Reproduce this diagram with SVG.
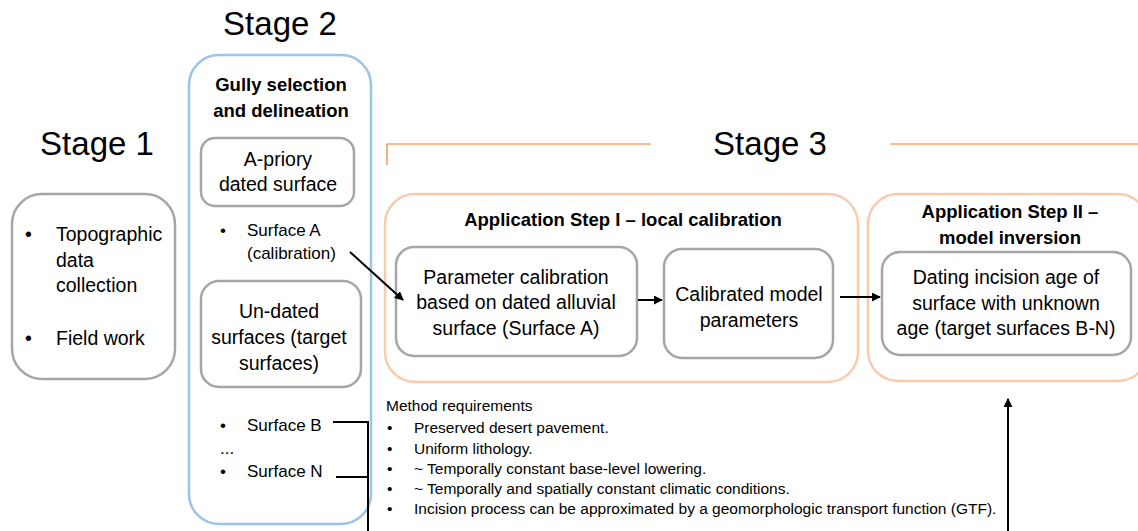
<svg xmlns="http://www.w3.org/2000/svg" width="1138" height="531" viewBox="0 0 1138 531">
<defs>
<style>
text{font-family:"Liberation Sans",Arial,sans-serif;fill:#000}
.title{font-size:33px;text-anchor:middle}
.t{font-size:19.5px;text-anchor:middle}
.b{font-size:18.5px;font-weight:bold;text-anchor:middle}
.s{font-size:17px}
.m{font-size:15.5px}
.gray{fill:#fff;stroke:#a6a6a6;stroke-width:2.5}
.orange{fill:#fff;stroke:#f8cbad;stroke-width:2.5}
.blue{fill:#fff;stroke:#9dc3e6;stroke-width:2.5}
.conn{fill:none;stroke:#000;stroke-width:2}
</style>
<marker id="ah" viewBox="0 0 10 10" refX="9" refY="5" markerWidth="4.5" markerHeight="4.5" orient="auto" markerUnits="strokeWidth">
<path d="M0,0 L10,5 L0,10 z" fill="#000"/>
</marker>
</defs>
<rect width="1138" height="531" fill="#fff"/>

<g id="titles">
<text class="title" x="280" y="35">Stage 2</text>
<text class="title" x="97" y="155">Stage 1</text>
<text class="title" x="770" y="155">Stage 3</text>
<path d="M387,165 V144 H651 M890,144 H1138" fill="none" stroke="#ed7d31" stroke-width="1.2"/>
</g>

<g id="stage1">
<rect class="gray" x="12" y="194" width="163" height="185" rx="30"/>
<text class="t" x="25" y="241" style="text-anchor:start">•</text>
<text class="t" x="56" y="241" style="text-anchor:start">Topographic</text>
<text class="t" x="56" y="267" style="text-anchor:start">data</text>
<text class="t" x="56" y="292" style="text-anchor:start">collection</text>
<text class="t" x="25" y="345" style="text-anchor:start">•</text>
<text class="t" x="56" y="345" style="text-anchor:start">Field work</text>
</g>

<g id="stage2">
<rect class="blue" x="189" y="55" width="182" height="469" rx="30"/>
<text class="b" x="281" y="91">Gully selection</text>
<text class="b" x="281" y="117">and delineation</text>
</g>

<g id="apriory">
<rect class="gray" x="201" y="138" width="153" height="68" rx="14"/>
<text class="t" x="278" y="166">A-priory</text>
<text class="t" x="278" y="191">dated surface</text>
</g>

<g id="surfaceA">
<text class="s" x="220" y="236">•</text>
<text class="s" x="247" y="236">Surface A</text>
<text class="s" x="247" y="259">(calibration)</text>
</g>

<g id="undated">
<rect class="gray" x="201" y="281" width="160" height="106" rx="18"/>
<text class="t" x="279" y="318">Un-dated</text>
<text class="t" x="279" y="344">surfaces (target</text>
<text class="t" x="279" y="370">surfaces)</text>
</g>

<g id="surfacesBN">
<text class="s" x="220" y="431">•</text>
<text class="s" x="247" y="431">Surface B</text>
<text class="s" x="220" y="454">...</text>
<text class="s" x="220" y="477">•</text>
<text class="s" x="247" y="477">Surface N</text>
</g>

<g id="stepI">
<rect class="orange" x="385" y="194" width="473" height="188" rx="30"/>
<text class="b" x="623" y="226">Application Step I – local calibration</text>
</g>

<g id="paramcal">
<rect class="gray" x="396" y="247" width="241" height="109" rx="18"/>
<text class="t" x="516" y="284">Parameter calibration</text>
<text class="t" x="516" y="309">based on dated alluvial</text>
<text class="t" x="516" y="335">surface (Surface A)</text>
</g>

<g id="calibrated">
<rect class="gray" x="664" y="249" width="169" height="109" rx="18"/>
<text class="t" x="749" y="301">Calibrated model</text>
<text class="t" x="749" y="327">parameters</text>
</g>

<g id="stepII">
<rect class="orange" x="868" y="194" width="280" height="187" rx="30"/>
<text class="b" x="1010" y="218">Application Step II –</text>
<text class="b" x="1010" y="244">model inversion</text>
</g>

<g id="dating">
<rect class="gray" x="882" y="252" width="249" height="103" rx="18"/>
<text class="t" x="1006" y="284">Dating incision age of</text>
<text class="t" x="1006" y="310">surface with unknown</text>
<text class="t" x="1006" y="335">age (target surfaces B-N)</text>
</g>

<g id="requirements">
<text class="m" x="386" y="411">Method requirements</text>
<text class="m" x="387" y="433">•</text><text class="m" x="414" y="433">Preserved desert pavement.</text>
<text class="m" x="387" y="454">•</text><text class="m" x="414" y="454">Uniform lithology.</text>
<text class="m" x="387" y="474">•</text><text class="m" x="414" y="474">~ Temporally constant base-level lowering.</text>
<text class="m" x="387" y="494">•</text><text class="m" x="414" y="494">~ Temporally and spatially constant climatic conditions.</text>
<text class="m" x="387" y="514">•</text><text class="m" x="414" y="514">Incision process can be approximated by a geomorphologic transport function (GTF).</text>
</g>

<g id="connectors">
<path class="conn" d="M350,252 L403,300" marker-end="url(#ah)"/>
<path class="conn" d="M638,300 H662" marker-end="url(#ah)"/>
<path class="conn" d="M840,297 H880" marker-end="url(#ah)"/>
<path class="conn" d="M333,422 H368 V531 M336,477 H368"/>
<path class="conn" d="M1008,531 V399" marker-end="url(#ah)"/>
</g>
</svg>
